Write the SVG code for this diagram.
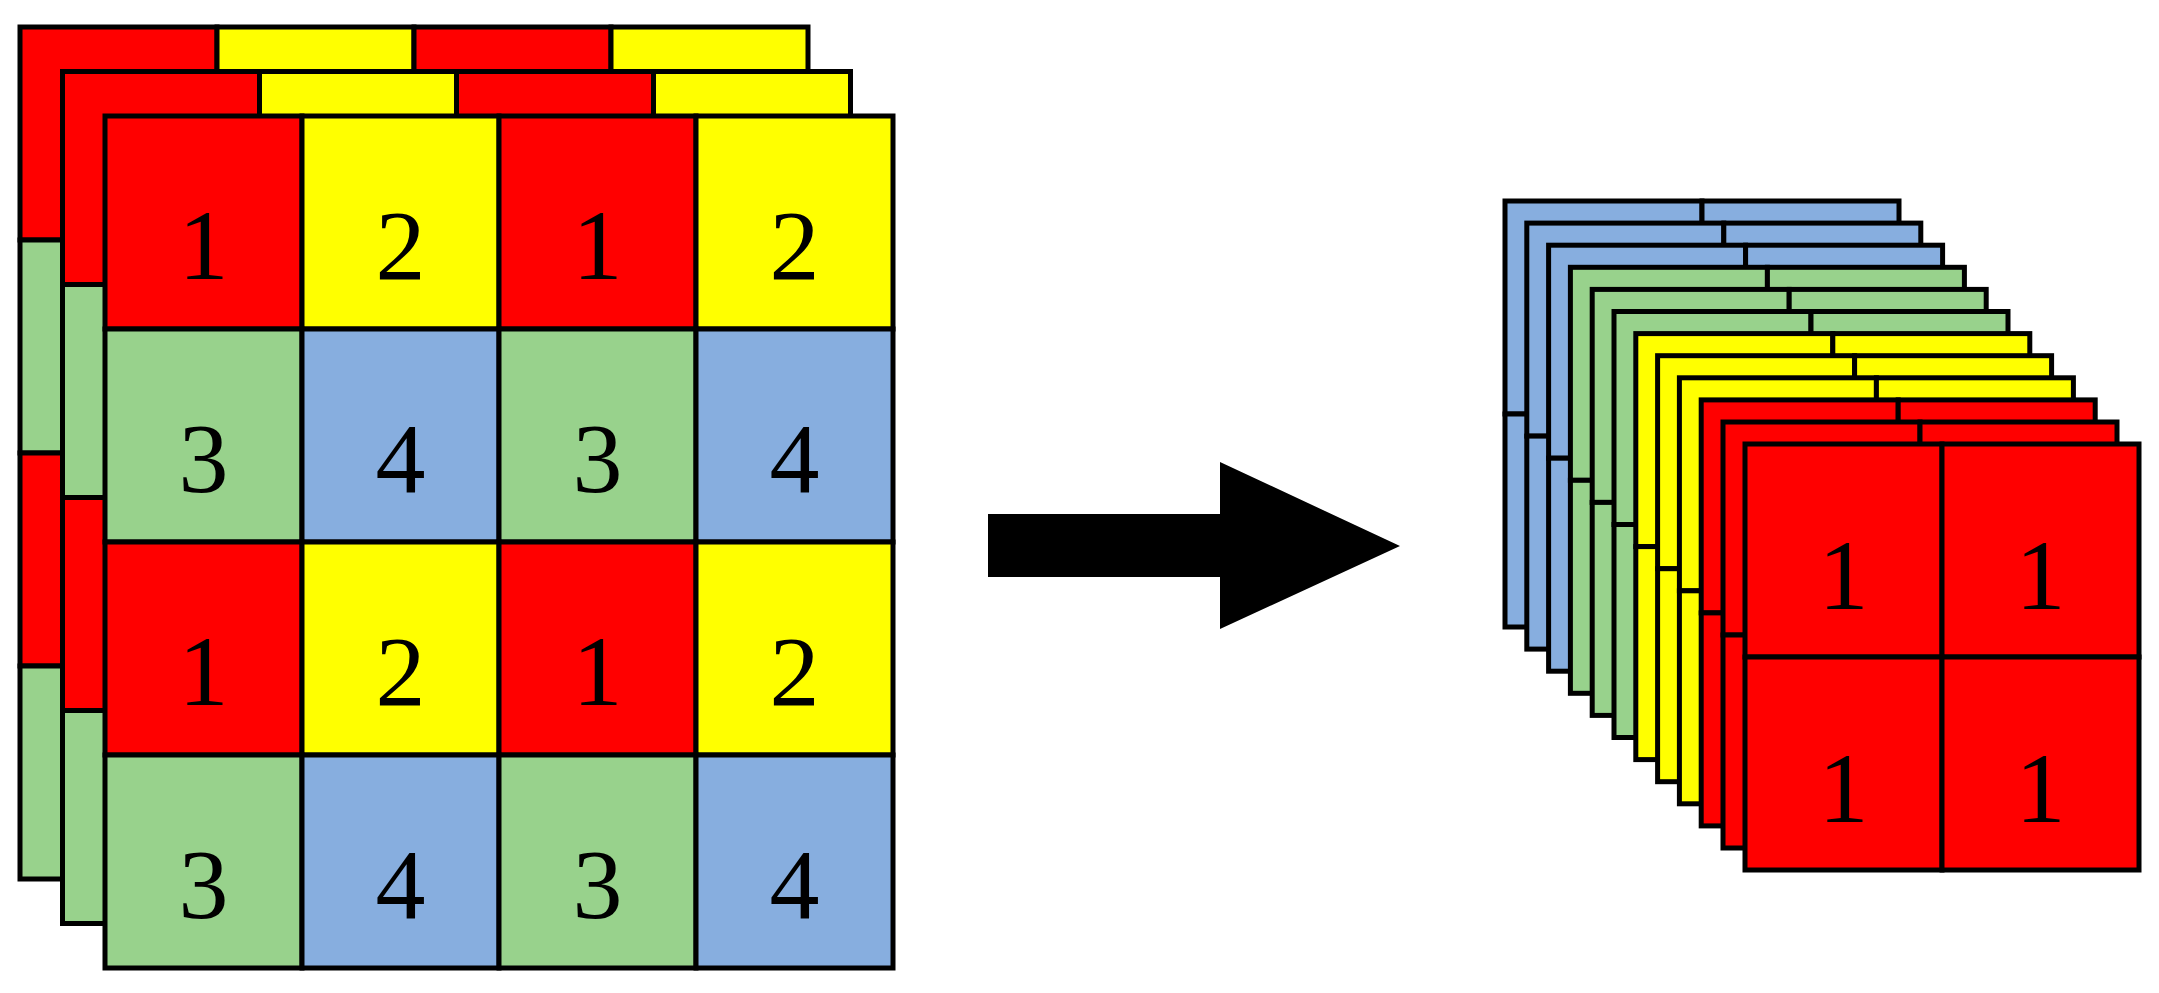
<svg xmlns="http://www.w3.org/2000/svg" xmlns:xlink="http://www.w3.org/1999/xlink" width="2159" height="993" viewBox="0 0 2159 993">
<style>
  rect { stroke: #000; stroke-width: 5; }
  .r { fill: #FF0000; }
  .y { fill: #FFFF00; }
  .g { fill: #98D28C; }
  .b { fill: #87AEDF; }
  text { font-family: "Liberation Serif", "Times New Roman", serif; font-size: 100px; fill: #000; text-anchor: middle; }
</style>
<defs>
  <g id="big">
    <rect class="r" x="0" y="0" width="197" height="213"/>
    <rect class="y" x="197" y="0" width="197" height="213"/>
    <rect class="r" x="394" y="0" width="197" height="213"/>
    <rect class="y" x="591" y="0" width="197" height="213"/>
    <rect class="g" x="0" y="213" width="197" height="213"/>
    <rect class="b" x="197" y="213" width="197" height="213"/>
    <rect class="g" x="394" y="213" width="197" height="213"/>
    <rect class="b" x="591" y="213" width="197" height="213"/>
    <rect class="r" x="0" y="426" width="197" height="213"/>
    <rect class="y" x="197" y="426" width="197" height="213"/>
    <rect class="r" x="394" y="426" width="197" height="213"/>
    <rect class="y" x="591" y="426" width="197" height="213"/>
    <rect class="g" x="0" y="639" width="197" height="213"/>
    <rect class="b" x="197" y="639" width="197" height="213"/>
    <rect class="g" x="394" y="639" width="197" height="213"/>
    <rect class="b" x="591" y="639" width="197" height="213"/>
  </g>
  <g id="small">
    <rect x="0" y="0" width="197" height="213"/>
    <rect x="197" y="0" width="197" height="213"/>
    <rect x="0" y="213" width="197" height="213"/>
    <rect x="197" y="213" width="197" height="213"/>
  </g>
</defs>

<g id="input-layer-3"><use xlink:href="#big" x="20" y="27"/></g>
<g id="input-layer-2"><use xlink:href="#big" x="62.5" y="71.5"/></g>
<g id="input-layer-1">
  <use xlink:href="#big" x="105" y="116"/>
  <text x="203.5" y="279">1</text><text x="400.5" y="279">2</text><text x="597.5" y="279">1</text><text x="794.5" y="279">2</text>
  <text x="203.5" y="492">3</text><text x="400.5" y="492">4</text><text x="597.5" y="492">3</text><text x="794.5" y="492">4</text>
  <text x="203.5" y="705">1</text><text x="400.5" y="705">2</text><text x="597.5" y="705">1</text><text x="794.5" y="705">2</text>
  <text x="203.5" y="918">3</text><text x="400.5" y="918">4</text><text x="597.5" y="918">3</text><text x="794.5" y="918">4</text>
</g>

<g id="connectors">
  <polygon points="988,514 1220,514 1220,462 1400,546 1220,629 1220,577 988,577" fill="#000"/>
</g>

<g id="out-blue-1" class="b"><use xlink:href="#small" x="1505" y="201"/></g>
<g id="out-blue-2" class="b"><use xlink:href="#small" x="1526.8" y="223.1"/></g>
<g id="out-blue-3" class="b"><use xlink:href="#small" x="1548.6" y="245.2"/></g>
<g id="out-green-1" class="g"><use xlink:href="#small" x="1570.4" y="267.3"/></g>
<g id="out-green-2" class="g"><use xlink:href="#small" x="1592.2" y="289.4"/></g>
<g id="out-green-3" class="g"><use xlink:href="#small" x="1614" y="311.5"/></g>
<g id="out-yellow-1" class="y"><use xlink:href="#small" x="1635.8" y="333.6"/></g>
<g id="out-yellow-2" class="y"><use xlink:href="#small" x="1657.6" y="355.7"/></g>
<g id="out-yellow-3" class="y"><use xlink:href="#small" x="1679.4" y="377.8"/></g>
<g id="out-red-1" class="r"><use xlink:href="#small" x="1701.2" y="399.9"/></g>
<g id="out-red-2" class="r"><use xlink:href="#small" x="1723" y="422"/></g>
<g id="out-red-3" class="r">
  <use xlink:href="#small" x="1745" y="444"/>
  <text x="1843.5" y="609">1</text><text x="2040.5" y="609">1</text>
  <text x="1843.5" y="822">1</text><text x="2040.5" y="822">1</text>
</g>
</svg>
